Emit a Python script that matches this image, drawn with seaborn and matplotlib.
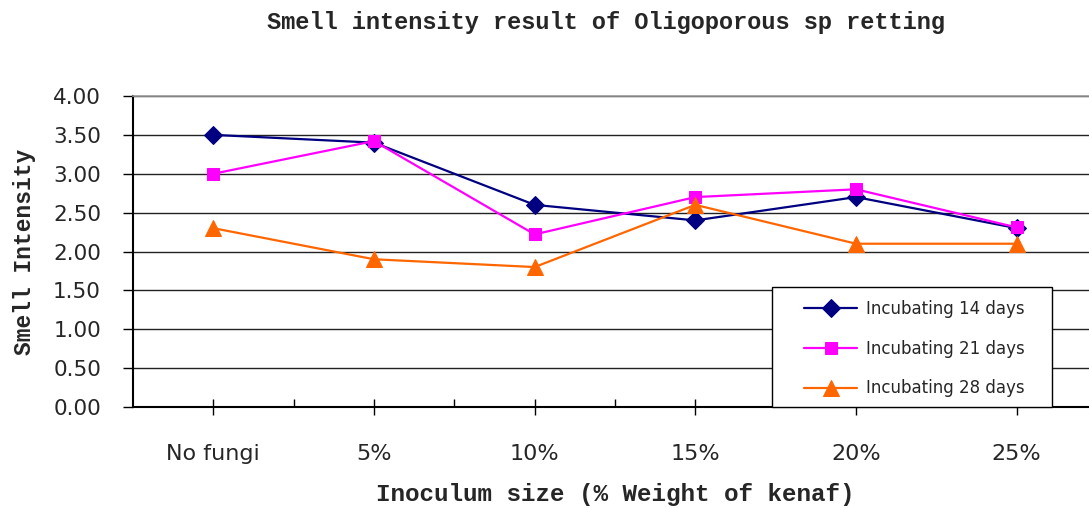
import matplotlib
matplotlib.use("Agg")
import matplotlib.pyplot as plt
import seaborn as sns
import pandas as pd
import numpy as np
from matplotlib.ticker import FixedLocator, FormatStrFormatter
from matplotlib.patches import Rectangle

categories = ["No fungi", "5%", "10%", "15%", "20%", "25%"]
days14 = [3.5, 3.4, 2.6, 2.4, 2.7, 2.3]
days21 = [3.0, 3.42, 2.22, 2.7, 2.8, 2.31]
days28 = [2.3, 1.9, 1.8, 2.6, 2.1, 2.1]
series_names = ["Incubating 14 days", "Incubating 21 days", "Incubating 28 days"]
series_colors = ["#000080", "#FF00FF", "#FF6600"]
series_markers = ["D", "s", "^"]
marker_sizes = [9, 9, 11]

sns.set_style("white")
plt.rcParams["font.family"] = ["DejaVu Sans"]

fig = plt.figure(figsize=(10.89, 5.08), dpi=100)
ax = fig.add_axes([133 / 1089, 101 / 508, 964 / 1089, 311 / 508])

pos = np.arange(len(categories))
for name, vals, col, mk, ms in zip(series_names, [days14, days21, days28],
                                   series_colors, series_markers, marker_sizes):
    df = pd.DataFrame({"x": pos, "y": vals})
    sns.lineplot(data=df, x="x", y="y", ax=ax, color=col, marker=mk,
                 markersize=ms, markeredgecolor=col, linewidth=1.6,
                 label=name, zorder=3)

ax.set_xlim(-0.5, len(categories) - 0.5)
ax.set_ylim(0, 4)
ax.yaxis.set_major_locator(FixedLocator(np.arange(0, 4.01, 0.5)))
ax.yaxis.set_major_formatter(FormatStrFormatter("%.2f"))
ax.set_xticks(pos)
ax.set_xticklabels(categories)
ax.xaxis.set_minor_locator(FixedLocator(np.arange(0.5, len(categories) - 0.5, 1)))

ax.grid(axis="y", color="#222222", linewidth=1.0)
ax.grid(axis="x", visible=False)
ax.set_axisbelow(True)

for s in ["left", "bottom"]:
    ax.spines[s].set_color("black")
    ax.spines[s].set_linewidth(1.5)
for s in ["top", "right"]:
    ax.spines[s].set_color("#999999")
    ax.spines[s].set_linewidth(1.2)

ax.tick_params(axis="y", which="major", direction="out", length=7, width=1,
               color="black", left=True, labelsize=15.5, pad=16)
ax.tick_params(axis="x", which="major", direction="inout", length=11, width=1,
               color="black", bottom=True, labelsize=16, pad=21)
ax.tick_params(axis="x", which="minor", direction="in", length=6, width=1,
               color="black", bottom=True)

mono = "Liberation Mono"
ax.set_xlabel("Inoculum size (% Weight of kenaf)", fontsize=17.5,
              fontweight="bold", family=mono)
ax.set_ylabel("Smell Intensity", fontsize=16.5, fontweight="bold", family=mono)
ax.xaxis.label.set_va("center")
ax.xaxis.set_label_coords(0.5, (407 - 495) / 311)
ax.yaxis.label.set_va("center")
ax.yaxis.label.set_ha("center")
ax.yaxis.set_label_coords((25 - 133) / 964, 0.5)

fig.suptitle("Smell intensity result of Oligoporous sp retting", x=606 / 1089,
             y=1 - 22 / 508, va="center", fontsize=17, fontweight="bold",
             family=mono)

# legend frame box
frame = Rectangle(((772 - 133) / 964, 0.0), (1052 - 772) / 964, (407 - 287) / 311,
                  transform=ax.transAxes, facecolor="white", edgecolor="black",
                  linewidth=1.0, zorder=4, clip_on=False)
ax.add_patch(frame)

leg = ax.legend(loc="upper left", bbox_to_anchor=((804 - 133) / 964, (407 - 300) / 311),
                fontsize=12, frameon=False, handlelength=3.2,
                labelspacing=1.3, borderpad=0, handletextpad=0.5,
                borderaxespad=0)
leg.set_zorder(5)

fig.savefig("out.png", dpi=100)
